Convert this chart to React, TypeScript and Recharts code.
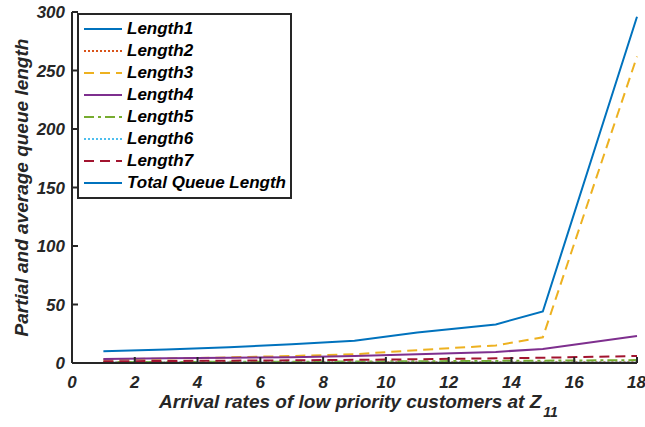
import { LineChart, Line, XAxis, YAxis } from "recharts"

const arrivalRates = [1, 3, 5, 7, 9, 11, 13.5, 15, 18]
const length1 = [0.2, 0.2, 0.2, 0.2, 0.2, 0.2, 0.2, 0.2, 0.2]
const length2 = [0.5, 0.5, 0.5, 0.5, 0.6, 0.6, 0.6, 0.6, 0.6]
const length3 = [3, 3.8, 4.8, 6, 7.5, 11, 15, 22, 262]
const length4 = [3.5, 4, 4.5, 5, 6, 7.5, 9.5, 12, 23]
const length5 = [0.8, 0.9, 1, 1.1, 1.3, 1.5, 1.8, 2, 2.5]
const length6 = [0.3, 0.3, 0.3, 0.3, 0.3, 0.3, 0.3, 0.3, 0.3]
const length7 = [1.5, 1.7, 2, 2.3, 2.7, 3.2, 4, 4.5, 6]
const totalLength = [10, 11.5, 13.5, 16, 19, 26, 33, 44, 296]

const xTicks = [0, 2, 4, 6, 8, 10, 12, 14, 16, 18]
const yTicks = [0, 50, 100, 150, 200, 250, 300]

const data = arrivalRates.map((x, i) => ({
  x,
  l1: length1[i],
  l2: length2[i],
  l3: length3[i],
  l4: length4[i],
  l5: length5[i],
  l6: length6[i],
  l7: length7[i],
  total: totalLength[i],
}))

const series = [
  { key: "l1", name: "Length1", color: "#0072BD", dash: undefined },
  { key: "l2", name: "Length2", color: "#D95319", dash: "2 2" },
  { key: "l3", name: "Length3", color: "#EDB120", dash: "10 6" },
  { key: "l4", name: "Length4", color: "#7E2F8E", dash: undefined },
  { key: "l5", name: "Length5", color: "#77AC30", dash: "10 4 3 4" },
  { key: "l6", name: "Length6", color: "#4DBEEE", dash: "2 2" },
  { key: "l7", name: "Length7", color: "#A2142F", dash: "10 6" },
  { key: "total", name: "Total Queue Length", color: "#0072BD", dash: undefined },
]

const font = "'Liberation Sans', Arial, sans-serif"
const ink = "#262626"

const tickStyle = { fontFamily: font, fontSize: 17, fontWeight: "bold", fontStyle: "italic", fill: ink }

function LegendBox() {
  return (
    <div
      style={{
        position: "absolute",
        left: 77,
        top: 13,
        width: 207,
        border: `2px solid ${ink}`,
        background: "white",
        padding: "3px 0 3px 4px",
        fontFamily: font,
        fontSize: 17,
        fontWeight: "bold",
        fontStyle: "italic",
        color: "#000",
        whiteSpace: "nowrap",
      }}
    >
      {series.map((s) => (
        <div key={s.key} style={{ display: "flex", alignItems: "center", height: 22 }}>
          <svg width={40} height={10} style={{ marginRight: 4 }}>
            <line x1={1} y1={5} x2={39} y2={5} stroke={s.color} strokeWidth={2} strokeDasharray={s.dash} />
          </svg>
          <span>{s.name}</span>
        </div>
      ))}
    </div>
  )
}

function XLabel(props: any) {
  const vb = props.viewBox || {}
  const cx = vb.x + vb.width / 2 + 4
  return (
    <text x={cx} y={408} textAnchor="middle" style={{ ...tickStyle, fontSize: 19 }}>
      Arrival rates of low priority customers at Z
      <tspan fontSize={14} dx={2} dy={9}>11</tspan>
    </text>
  )
}

function YLabel(props: any) {
  const vb = props.viewBox || {}
  const cy = vb.y + vb.height / 2
  return (
    <text x={28} y={cy} transform={`rotate(-90 28 ${cy})`} textAnchor="middle" style={{ ...tickStyle, fontSize: 19 }}>
      Partial and average queue length
    </text>
  )
}

export default function App() {
  return (
    <div style={{ position: "absolute", left: 0, top: 0, width: 645, height: 427, background: "white" }}>
      <LineChart width={645} height={427} data={data} margin={{ top: 12, right: 8, left: 0, bottom: 0 }}>
        <XAxis
          dataKey="x"
          type="number"
          domain={[0, 18]}
          ticks={xTicks}
          height={64}
          stroke={ink}
          strokeWidth={2}
          tickSize={-6}
          tickMargin={19}
          tick={tickStyle}
          label={<XLabel />}
        />
        <XAxis
          xAxisId="top"
          dataKey="x"
          type="number"
          orientation="top"
          domain={[0, 18]}
          ticks={xTicks}
          height={0}
          stroke={ink}
          strokeWidth={2}
          tickSize={-6}
          tickFormatter={() => ""}
        />
        <YAxis
          type="number"
          domain={[0, 300]}
          ticks={yTicks}
          width={72}
          stroke={ink}
          strokeWidth={2}
          tickSize={-6}
          tickMargin={13}
          tick={tickStyle}
          label={<YLabel />}
        />
        <YAxis
          yAxisId="right"
          orientation="right"
          type="number"
          domain={[0, 300]}
          ticks={yTicks}
          width={0}
          stroke={ink}
          strokeWidth={2}
          tickSize={-6}
          tickFormatter={() => ""}
        />
        {series.map((s) => (
          <Line
            key={s.key}
            dataKey={s.key}
            name={s.name}
            stroke={s.color}
            strokeWidth={2}
            strokeDasharray={s.dash}
            dot={false}
            type="linear"
            isAnimationActive={false}
          />
        ))}
      </LineChart>
      <LegendBox />
    </div>
  )
}
